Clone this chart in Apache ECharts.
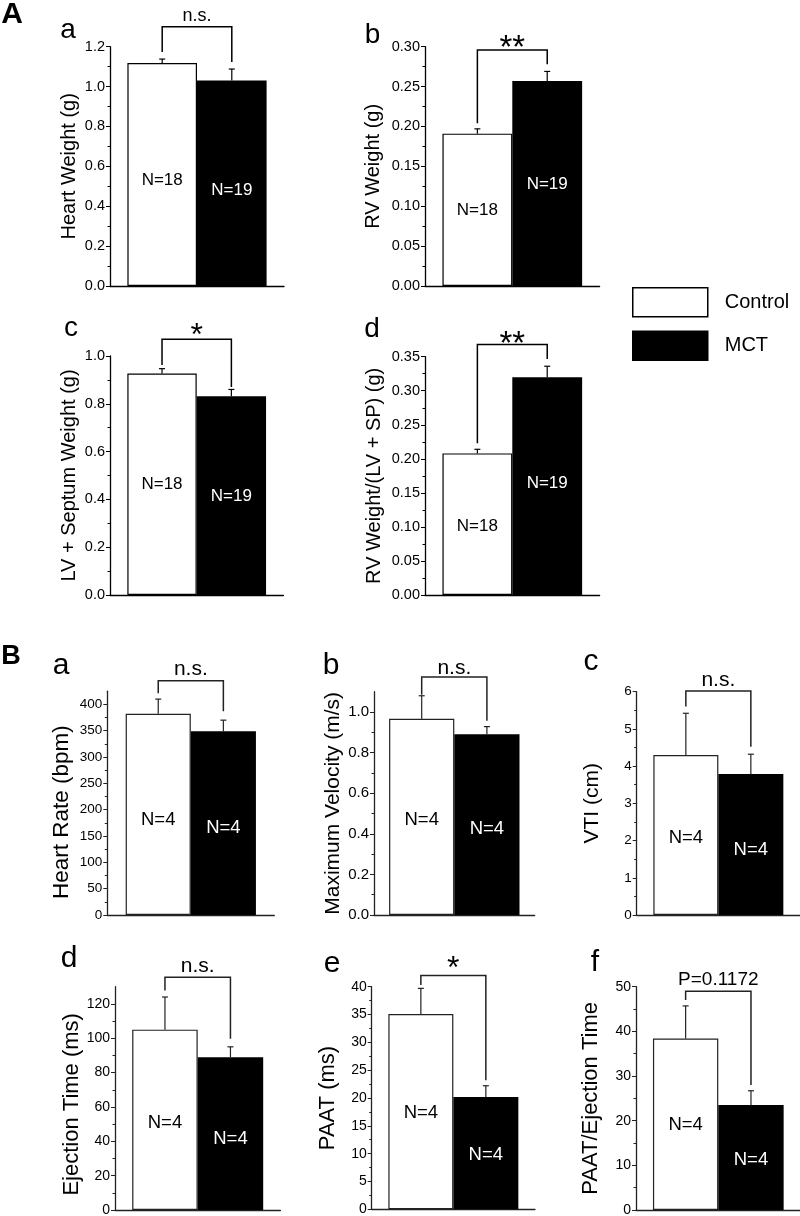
<!DOCTYPE html>
<html><head><meta charset="utf-8">
<script src="https://cdn.jsdelivr.net/npm/echarts@6/dist/echarts.min.js"></script>
<style>html,body{margin:0;padding:0;background:#fff}#c{width:800px;height:1216px}</style>
</head><body><div id="c"></div>
<script>
// ---------------- DATA ----------------
const groups = ['Control', 'MCT'];
const panelIds = ['Aa', 'Ab', 'Ac', 'Ad', 'Ba', 'Bb', 'Bc', 'Bd', 'Be', 'Bf'];
const yTitles = ['Heart Weight (g)', 'RV Weight (g)', 'LV + Septum Weight (g)', 'RV Weight/(LV + SP) (g)',
  'Heart Rate (bpm)', 'Maximum Velocity (m/s)', 'VTI (cm)', 'Ejection Time (ms)', 'PAAT (ms)', 'PAAT/Ejection Time'];
const controlMean = [1.118, 0.191, 0.927, 0.208, 382, 0.967, 4.30, 105, 35.1, 38.4];
const controlErr  = [0.020, 0.006, 0.020, 0.006, 28, 0.113, 1.12, 19, 4.6, 7.3];
const mctMean     = [1.030, 0.257, 0.832, 0.320, 349, 0.890, 3.79, 89, 20.2, 23.5];
const mctErr      = [0.058, 0.012, 0.028, 0.016, 21, 0.038, 0.53, 6, 2.0, 3.2];
const controlN = ['N=18', 'N=18', 'N=18', 'N=18', 'N=4', 'N=4', 'N=4', 'N=4', 'N=4', 'N=4'];
const mctN     = ['N=19', 'N=19', 'N=19', 'N=19', 'N=4', 'N=4', 'N=4', 'N=4', 'N=4', 'N=4'];
const significance = ['n.s.', '**', '*', '**', 'n.s.', 'n.s.', 'n.s.', 'n.s.', '*', 'P=0.1172'];
// axis scales / tick labels
const yMax      = [1.2, 0.30, 1.0, 0.35, 425, 1.1, 6, 130, 40, 50];
const yStep     = [0.2, 0.05, 0.2, 0.05, 50, 0.2, 1, 20, 5, 10];
const yTopLabel = [1.2, 0.30, 1.0, 0.35, 400, 1.0, 6, 120, 40, 50];
const yDecimals = [1, 2, 1, 2, 0, 1, 0, 0, 0, 0];
const panelLetters = ['a', 'b', 'c', 'd', 'a', 'b', 'c', 'd', 'e', 'f'];
const sectionLetters = ['A', 'B'];

// ---------------- LAYOUT ----------------
const layout = [
 {left:110, top:46.7, width:174, height:239.3, barPct:40, nameGap:31, titleSize:20, titleShift:0, tickSize:14.5, nSize:17, bracket:[1.30,1.173,1.123], sigSize:18, sigOffset:11, nY:[0.53,0.478], letter:[68,30.6,28], dark:'#000'},
 {left:425, top:46.7, width:174.6, height:239.3, barPct:40, nameGap:42, titleSize:20, titleShift:0, tickSize:14.5, nSize:17, bracket:[0.296,0.204,0.278], sigSize:33, sigOffset:1, nY:[0.095,0.1275], letter:[372.5,35,28], dark:'#000'},
 {left:110, top:356, width:173.4, height:239, barPct:40, nameGap:31, titleSize:20, titleShift:0, tickSize:14.5, nSize:17, bracket:[1.07,0.962,0.870], sigSize:32, sigOffset:3, nY:[0.463,0.411], letter:[71,328.6,28], dark:'#000'},
 {left:425, top:356.7, width:174.6, height:238.3, barPct:40, nameGap:41, titleSize:20, titleShift:0, tickSize:14.5, nSize:17, bracket:[0.368,0.223,0.3466], sigSize:33, sigOffset:0, nY:[0.101,0.164], letter:[372,329,28], dark:'#000'},
 {left:107.3, top:691.2, width:167, height:223.8, barPct:39, nameGap:34, titleSize:22.5, titleShift:18, tickSize:13.5, nSize:18.5, bracket:[445,421,387], sigSize:21, sigOffset:11, nY:[180,165], letter:[61,665.4,30], dark:'#222'},
 {left:374, top:691.7, width:160.6, height:223.3, barPct:40.6, nameGap:30, titleSize:21, titleShift:0, tickSize:15, nSize:18.5, bracket:[1.173,1.085,0.957], sigSize:21, sigOffset:9, nY:[0.469,0.424], letter:[331,666,30], dark:'#222'},
 {left:636.7, top:691.7, width:163.3, height:223.3, barPct:39.8, nameGap:34, titleSize:21, titleShift:0, tickSize:13.5, nSize:18.5, bracket:[6.02,5.6,4.52], sigSize:21, sigOffset:10.4, nY:[2.08,1.75], letter:[591,661.4,30], dark:'#222'},
 {left:115, top:986.7, width:165.4, height:223.3, barPct:39.6, nameGap:31, titleSize:22, titleShift:12, tickSize:14, nSize:18.5, bracket:[135.5,127.8,99.7], sigSize:21, sigOffset:11, nY:[50.7,41.2], letter:[69,959,30], dark:'#222'},
 {left:371.7, top:986.7, width:163.3, height:222.6, barPct:39.8, nameGap:33, titleSize:22, titleShift:0, tickSize:14, nSize:18.5, bracket:[42,40.3,23.2], sigSize:32, sigOffset:6, nY:[17.35,9.75], letter:[332,963.4,30], dark:'#222'},
 {left:636, top:986.7, width:164.6, height:223.3, barPct:39.7, nameGap:34, titleSize:22, titleShift:0, tickSize:14, nSize:18.5, bracket:[49.0,47.0,28.0], sigSize:19, sigOffset:11, nY:[19.0,11.2], letter:[595,963,30], dark:'#222'}
];
const sectionPos = [[12, 15, 30], [11, 656.5, 27]];

const FONT = '"Liberation Sans", Arial, Helvetica, sans-serif';
const chart = echarts.init(document.getElementById('c'), null, {renderer: 'canvas'});

const grids = [], xAxes = [], yAxes = [], series = [], graphics = [];

panelIds.forEach((id, i) => {
  const L = layout[i];
  const ratio = L.barPct / 100;
  grids.push({left: L.left, top: L.top, width: L.width, height: L.height, containLabel: false, outerBoundsMode: 'none'});
  xAxes.push({type: 'category', gridIndex: i, data: [''], axisTick: {show: false}, axisLabel: {show: false},
    axisLine: {show: true, lineStyle: {color: L.dark, width: 1.3}}, splitLine: {show: false}});
  const majors = [], minors = [];
  const nMaj = Math.round(yTopLabel[i] / yStep[i]);
  for (let k = 0; k <= nMaj; k++) majors.push(+(k * yStep[i]).toFixed(6));
  const half = yStep[i] / 2;
  for (let k = 1; k * half < yMax[i] - 1e-9; k += 2) minors.push(+(k * half).toFixed(6));
  yAxes.push({type: 'value', gridIndex: i, position: 'left', offset: 0, min: 0, max: yMax[i], interval: yStep[i],
    name: yTitles[i], nameLocation: 'middle', nameGap: L.nameGap,
    nameTextStyle: {fontSize: L.titleSize, fontFamily: FONT, color: '#000', padding: [0, L.titleShift, 0, 0]},
    axisLine: {show: true, lineStyle: {color: L.dark, width: 1.3}},
    axisTick: {show: true, length: 4, customValues: majors, lineStyle: {color: L.dark, width: 1}},
    axisLabel: {customValues: majors, formatter: v => Number(v).toFixed(yDecimals[i]), fontSize: L.tickSize,
      color: '#000', fontFamily: FONT, margin: 5},
    splitLine: {show: false}});
  yAxes.push({type: 'value', gridIndex: i, position: 'left', offset: 0, min: 0, max: yMax[i], interval: yStep[i],
    axisLine: {show: false}, axisLabel: {show: false}, splitLine: {show: false},
    axisTick: {show: true, length: 2.5, customValues: minors, lineStyle: {color: L.dark, width: 1}}});

  series.push({type: 'bar', name: groups[0], xAxisIndex: i, yAxisIndex: 2 * i, data: [controlMean[i]],
    barWidth: L.barPct + '%', barGap: '0%', silent: true,
    itemStyle: {color: '#fff', borderColor: L.dark, borderWidth: 1.2}, z: 2});
  series.push({type: 'bar', name: groups[1], xAxisIndex: i, yAxisIndex: 2 * i, data: [mctMean[i]],
    barWidth: L.barPct + '%', barGap: '0%', silent: true,
    itemStyle: {color: '#000', borderColor: '#000', borderWidth: 0}, z: 2});

  // error bars (upper only)
  series.push({type: 'custom', xAxisIndex: i, yAxisIndex: 2 * i, clip: false, silent: true, z: 5,
    data: [[0, controlMean[i], controlErr[i], 0], [0, mctMean[i], mctErr[i], 1]],
    renderItem: (params, api) => {
      const mean = api.value(1), err = api.value(2), side = api.value(3);
      const band = api.size([1, 0])[0];
      const c = api.coord([0, mean]);
      const x = c[0] + (side === 0 ? -1 : 1) * band * ratio / 2;
      const yTop = api.coord([0, mean + err])[1];
      const st = {stroke: L.dark, lineWidth: 1.2};
      return {type: 'group', children: [
        {type: 'line', shape: {x1: x, y1: c[1], x2: x, y2: yTop}, style: st},
        {type: 'line', shape: {x1: x - 3, y1: yTop, x2: x + 3, y2: yTop}, style: st}
      ]};
    }});

  // N labels
  series.push({type: 'custom', xAxisIndex: i, yAxisIndex: 2 * i, clip: false, silent: true, z: 6,
    data: [[0, L.nY[0], 0], [0, L.nY[1], 1]],
    renderItem: (params, api) => {
      const side = api.value(2);
      const band = api.size([1, 0])[0];
      const c = api.coord([0, api.value(1)]);
      const x = c[0] + (side === 0 ? -1 : 1) * band * ratio / 2;
      return {type: 'text', x: x, y: c[1], style: {text: side === 0 ? controlN[i] : mctN[i],
        fontSize: L.nSize, fontFamily: FONT, fill: side === 0 ? '#000' : '#fff', align: 'center', verticalAlign: 'middle'}};
    }});

  // significance bracket
  series.push({type: 'custom', xAxisIndex: i, yAxisIndex: 2 * i, clip: false, silent: true, z: 6,
    data: [[0, L.bracket[0], L.bracket[1], L.bracket[2]]],
    renderItem: (params, api) => {
      const band = api.size([1, 0])[0];
      const c = api.coord([0, api.value(1)]);
      const xL = c[0] - band * ratio / 2, xR = c[0] + band * ratio / 2;
      const yT = c[1];
      const yL = api.coord([0, api.value(2)])[1];
      const yR = api.coord([0, api.value(3)])[1];
      return {type: 'group', children: [
        {type: 'polyline', shape: {points: [[xL, yL], [xL, yT], [xR, yT], [xR, yR]]},
          style: {stroke: L.dark, lineWidth: 1.5, fill: null}},
        {type: 'text', x: c[0], y: yT - L.sigOffset, style: {text: significance[i], fontSize: L.sigSize,
          fontFamily: FONT, fill: '#000', align: 'center', verticalAlign: 'middle'}}
      ]};
    }});

  graphics.push({type: 'text', x: L.letter[0], y: L.letter[1], silent: true,
    style: {text: panelLetters[i], fontSize: L.letter[2], fontFamily: FONT, fill: '#000', align: 'center', verticalAlign: 'middle'}});
});

sectionLetters.forEach((s, k) => {
  graphics.push({type: 'text', x: sectionPos[k][0], y: sectionPos[k][1], silent: true,
    style: {text: s, fontSize: sectionPos[k][2], fontWeight: 'bold', fontFamily: FONT, fill: '#000', align: 'center', verticalAlign: 'middle'}});
});

chart.setOption({
  animation: false,
  backgroundColor: '#fff',
  legend: {data: groups, orient: 'vertical', left: 632, top: 287, itemWidth: 75, itemHeight: 29, itemGap: 13,
    padding: 0, icon: 'rect', selectedMode: false, itemStyle: {borderWidth: 1.5},
    textStyle: {fontSize: 20, fontFamily: FONT, color: '#000', padding: [0, 0, 0, 12]}},
  grid: grids, xAxis: xAxes, yAxis: yAxes, series: series, graphic: graphics
});
</script></body></html>
